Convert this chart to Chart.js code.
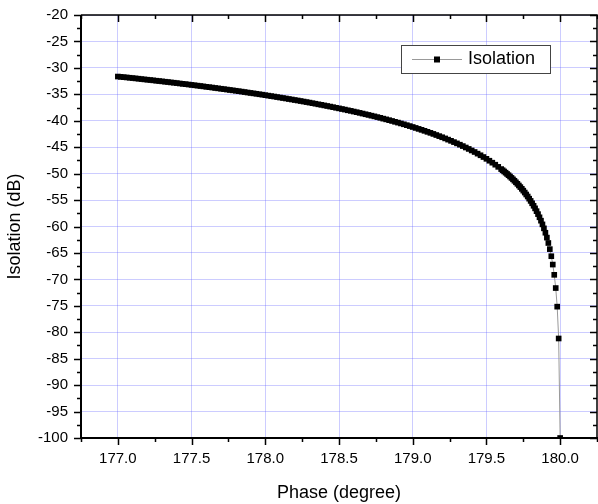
<!DOCTYPE html>
<html>
<head>
<meta charset="utf-8">
<script src="https://cdn.jsdelivr.net/npm/chart.js@4.4.1/dist/chart.umd.min.js"></script>
<style>
  html, body { margin: 0; padding: 0; background: #fff; }
  #wrap { width: 598px; height: 504px; position: relative; }
</style>
</head>
<body>
<div id="wrap"><canvas id="isoChart" width="598" height="504"></canvas></div>
<script>
// phase (degree)
const phase = [
  177.00, 177.02, 177.04, 177.06, 177.08, 177.10, 177.12, 177.14, 177.16, 177.18,
  177.20, 177.22, 177.24, 177.26, 177.28, 177.30, 177.32, 177.34, 177.36, 177.38,
  177.40, 177.42, 177.44, 177.46, 177.48, 177.50, 177.52, 177.54, 177.56, 177.58,
  177.60, 177.62, 177.64, 177.66, 177.68, 177.70, 177.72, 177.74, 177.76, 177.78,
  177.80, 177.82, 177.84, 177.86, 177.88, 177.90, 177.92, 177.94, 177.96, 177.98,
  178.00, 178.02, 178.04, 178.06, 178.08, 178.10, 178.12, 178.14, 178.16, 178.18,
  178.20, 178.22, 178.24, 178.26, 178.28, 178.30, 178.32, 178.34, 178.36, 178.38,
  178.40, 178.42, 178.44, 178.46, 178.48, 178.50, 178.52, 178.54, 178.56, 178.58,
  178.60, 178.62, 178.64, 178.66, 178.68, 178.70, 178.72, 178.74, 178.76, 178.78,
  178.80, 178.82, 178.84, 178.86, 178.88, 178.90, 178.92, 178.94, 178.96, 178.98,
  179.00,
  179.02, 179.04, 179.06, 179.08, 179.10, 179.12, 179.14, 179.16, 179.18, 179.20,
  179.22, 179.24, 179.26, 179.28, 179.30, 179.32, 179.34, 179.36, 179.38, 179.40,
  179.42, 179.44, 179.46, 179.48, 179.50, 179.52, 179.54, 179.56, 179.58, 179.60,
  179.61, 179.62, 179.63, 179.64, 179.65, 179.66, 179.67, 179.68, 179.69, 179.70,
  179.71, 179.72, 179.73, 179.74, 179.75, 179.76, 179.77, 179.78, 179.79, 179.80,
  179.81, 179.82, 179.83, 179.84, 179.85, 179.86, 179.87, 179.88, 179.89, 179.90,
  179.91, 179.92, 179.93, 179.94, 179.95, 179.96, 179.97, 179.98, 179.99, 180.00
];
// isolation (dB)
const isolation = [
  -31.64, -31.70, -31.76, -31.81, -31.87, -31.93, -31.99, -32.05, -32.12, -32.18,
  -32.24, -32.30, -32.36, -32.43, -32.49, -32.55, -32.62, -32.68, -32.75, -32.81,
  -32.88, -32.95, -33.02, -33.08, -33.15, -33.22, -33.29, -33.36, -33.43, -33.50,
  -33.58, -33.65, -33.72, -33.80, -33.87, -33.95, -34.02, -34.10, -34.18, -34.25,
  -34.33, -34.41, -34.49, -34.57, -34.66, -34.74, -34.82, -34.90, -34.99, -35.07,
  -35.16, -35.25, -35.34, -35.42, -35.52, -35.61, -35.70, -35.79, -35.89, -35.98,
  -36.08, -36.17, -36.27, -36.37, -36.47, -36.57, -36.68, -36.78, -36.89, -36.99,
  -37.10, -37.21, -37.32, -37.43, -37.55, -37.66, -37.78, -37.89, -38.02, -38.13,
  -38.26, -38.38, -38.51, -38.64, -38.77, -38.90, -39.04, -39.17, -39.31, -39.45,
  -39.60, -39.74, -39.89, -40.04, -40.20, -40.35, -40.51, -40.67, -40.84, -41.01,
  -41.18,
  -41.36, -41.54, -41.72, -41.91, -42.10, -42.29, -42.49, -42.70, -42.91, -43.12,
  -43.34, -43.57, -43.80, -44.04, -44.28, -44.53, -44.79, -45.06, -45.33, -45.62,
  -45.91, -46.22, -46.53, -46.86, -47.20, -47.56, -47.93, -48.31, -48.72, -49.14,
  -49.36, -49.59, -49.82, -50.06, -50.30, -50.55, -50.81, -51.08, -51.35, -51.64,
  -51.93, -52.24, -52.55, -52.88, -53.22, -53.58, -53.95, -54.33, -54.74, -55.16,
  -55.61, -56.08, -56.57, -57.10, -57.66, -58.26, -58.90, -59.60, -60.35, -61.18,
  -62.10, -63.12, -64.28, -65.62, -67.20, -69.14, -71.64, -75.16, -81.18, -100.00
];

const xTicks = [177.0, 177.5, 178.0, 178.5, 179.0, 179.5, 180.0];
const yTicks = [-20, -25, -30, -35, -40, -45, -50, -55, -60, -65, -70, -75, -80, -85, -90, -95, -100];
const xMinor = [176.75, 177.25, 177.75, 178.25, 178.75, 179.25, 179.75, 180.25];
const yMinor = [-22.5, -27.5, -32.5, -37.5, -42.5, -47.5, -52.5, -57.5, -62.5, -67.5, -72.5, -77.5, -82.5, -87.5, -92.5, -97.5];

const FONT = "'Liberation Sans', Arial, sans-serif";
const GRID = 'rgba(110,110,255,0.35)';

// 프레임 + 눈금 (바깥: 왼쪽/아래, 안쪽: 위/오른쪽) + 범례
const framePlugin = {
  id: 'frame',
  afterDraw(chart) {
    const { ctx, chartArea: { left, right, top, bottom }, scales: { x, y } } = chart;
    ctx.save();
    ctx.strokeStyle = '#000';
    ctx.lineWidth = 1.5;
    ctx.beginPath();
    ctx.moveTo(left, top); ctx.lineTo(right, top); ctx.lineTo(right, bottom);
    ctx.stroke();
    ctx.lineWidth = 2;
    ctx.beginPath();
    ctx.moveTo(left, top); ctx.lineTo(left, bottom); ctx.lineTo(right + 1, bottom);
    ctx.stroke();

    ctx.lineWidth = 1.5;
    ctx.beginPath();
    xTicks.forEach(v => {
      const px = Math.round(x.getPixelForValue(v)) + 0.5;
      ctx.moveTo(px, bottom); ctx.lineTo(px, bottom + 7);
      ctx.moveTo(px, top); ctx.lineTo(px, top + 7);
    });
    xMinor.forEach(v => {
      const px = Math.round(x.getPixelForValue(v)) + 0.5;
      ctx.moveTo(px, bottom); ctx.lineTo(px, bottom + 4);
      ctx.moveTo(px, top); ctx.lineTo(px, top + 4);
    });
    yTicks.forEach(v => {
      const py = Math.round(y.getPixelForValue(v)) + 0.5;
      ctx.moveTo(left, py); ctx.lineTo(left - 7, py);
      ctx.moveTo(right, py); ctx.lineTo(right - 7, py);
    });
    yMinor.forEach(v => {
      const py = Math.round(y.getPixelForValue(v)) + 0.5;
      ctx.moveTo(left, py); ctx.lineTo(left - 4, py);
      ctx.moveTo(right, py); ctx.lineTo(right - 4, py);
    });
    ctx.stroke();

    // legend box
    const bx = 401, by = 45, bw = 149, bh = 28;
    ctx.fillStyle = '#fff';
    ctx.fillRect(bx, by, bw, bh);
    ctx.strokeStyle = '#444';
    ctx.lineWidth = 1;
    ctx.strokeRect(bx + 0.5, by + 0.5, bw, bh);
    const ly = by + bh / 2 + 0.5;
    ctx.strokeStyle = '#999';
    ctx.beginPath();
    ctx.moveTo(412, ly); ctx.lineTo(462, ly);
    ctx.stroke();
    ctx.fillStyle = '#000';
    ctx.fillRect(434, ly - 3, 6, 6);
    ctx.font = '18px ' + FONT;
    ctx.textBaseline = 'middle';
    ctx.fillText(chart.data.datasets[0].label, 468, ly);
    ctx.restore();
  }
};

new Chart(document.getElementById('isoChart'), {
  type: 'line',
  data: {
    labels: phase,
    datasets: [{
      label: 'Isolation',
      data: phase.map((p, i) => ({ x: p, y: isolation[i] })),
      borderColor: '#999',
      borderWidth: 1,
      pointStyle: 'rect',
      pointRadius: 4,
      pointBorderWidth: 0,
      pointBackgroundColor: '#000',
      pointBorderColor: '#000',
      tension: 0,
      clip: 0
    }]
  },
  options: {
    responsive: false,
    animation: false,
    events: [],
    layout: { autoPadding: false, padding: { top: 15, right: 1, left: 0, bottom: 0 } },
    plugins: { legend: { display: false }, tooltip: { enabled: false } },
    scales: {
      x: {
        type: 'linear',
        min: 176.75,
        max: 180.25,
        afterBuildTicks: s => { s.ticks = xTicks.map(v => ({ value: v })); },
        afterFit: s => { s.height = 66; s.paddingLeft = 0; s.paddingRight = 0; },
        grid: { color: GRID, borderDash: [1, 3], drawTicks: false },
        border: { display: false },
        ticks: {
          padding: 12,
          color: '#000',
          font: { family: FONT, size: 15 },
          callback: v => Number(v).toFixed(1)
        },
        title: {
          display: true,
          text: 'Phase (degree)',
          color: '#000',
          font: { family: FONT, size: 18 },
          padding: { top: 0, bottom: 0 }
        }
      },
      y: {
        type: 'linear',
        min: -100,
        max: -20,
        afterBuildTicks: s => { s.ticks = yTicks.map(v => ({ value: v })); },
        afterFit: s => { s.width = 81; s.paddingTop = 0; s.paddingBottom = 0; },
        grid: { color: GRID, borderDash: [1, 3], drawTicks: false },
        border: { display: false },
        ticks: {
          padding: 13,
          color: '#000',
          font: { family: FONT, size: 15 },
          callback: v => String(v)
        },
        title: {
          display: true,
          text: 'Isolation (dB)',
          color: '#000',
          font: { family: FONT, size: 18 },
          padding: { top: 4, bottom: 0 }
        }
      }
    }
  },
  plugins: [framePlugin]
});
</script>
</body>
</html>
